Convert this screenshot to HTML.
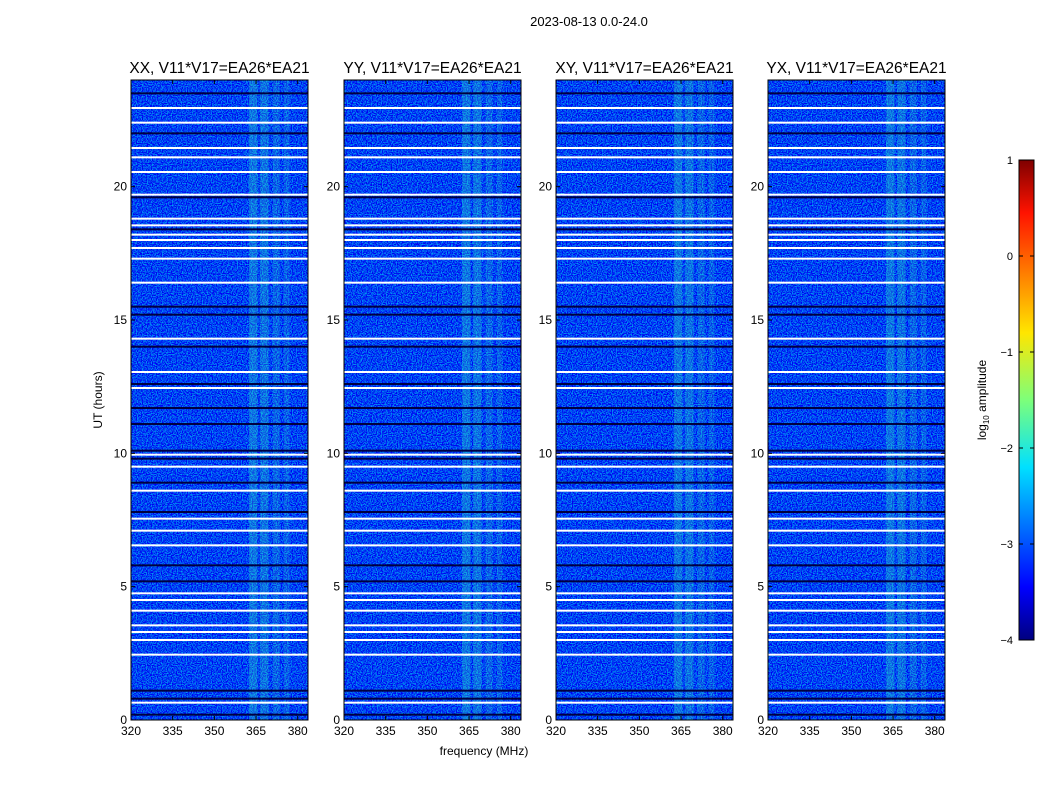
<!DOCTYPE html>
<html><head><meta charset="utf-8"><style>
body{margin:0;background:#fff;font-family:"Liberation Sans",sans-serif}
svg text{font-family:"Liberation Sans",sans-serif}
</style></head><body>
<svg id="chart" width="1050" height="800" viewBox="0 0 1050 800">
<defs>
<filter id="noise" x="0" y="0" width="100%" height="100%">
<feTurbulence type="fractalNoise" baseFrequency="0.8 0.9" numOctaves="1" seed="3" result="t"/>
<feColorMatrix in="t" type="matrix" values="0 0 0 0 0.0  1.4 0 0 0 -0.62  0 0.6 0 0 0.62  0 0 0 0 1"/>
</filter>
<linearGradient id="jet" x1="0" y1="1" x2="0" y2="0">
<stop offset="0" stop-color="#00007f"/><stop offset="0.11" stop-color="#0000ff"/>
<stop offset="0.36" stop-color="#00e0ff"/><stop offset="0.5" stop-color="#7dff7a"/>
<stop offset="0.64" stop-color="#ffe600"/><stop offset="0.89" stop-color="#ff1300"/>
<stop offset="1" stop-color="#7f0000"/></linearGradient>
</defs>
<text x="589" y="26" font-size="13" text-anchor="middle">2023-08-13 0.0-24.0</text>
<g id="panels"></g>
<text x="484" y="755" font-size="12" text-anchor="middle">frequency (MHz)</text>
<text x="102" y="400" font-size="12" text-anchor="middle" transform="rotate(-90 102 400)">UT (hours)</text>
<g>
<rect x="1019" y="160" width="15" height="480" fill="url(#jet)" stroke="#000"/>
<g id="cbticks"></g>
<text x="986" y="400" font-size="12" text-anchor="middle" transform="rotate(-90 986 400)">log<tspan font-size="8" dy="3">10</tspan><tspan dy="-3"> amplitude</tspan></text>
</g>
</svg>
<script>
const panelTitles=["XX, V11*V17=EA26*EA21","YY, V11*V17=EA26*EA21","XY, V11*V17=EA26*EA21","YX, V11*V17=EA26*EA21"];
const panelLefts=[131,344,556,768];
const xTicks=[320,335,350,365,380];
const yTicks=[0,5,10,15,20];
const cbTicks=[1,0,-1,-2,-3,-4];
const gapHours=[0.65,2.45,3.0,3.3,3.55,4.1,4.5,4.75,6.55,7.1,7.55,8.6,9.5,9.95,12.45,13.05,14.3,16.4,17.3,17.7,18.0,18.2,18.55,18.8,19.7,20.55,21.1,21.45,22.4,22.95];
const darkHours=[0.2,0.8,1.1,5.2,5.8,7.8,8.9,9.8,10.1,11.1,11.7,12.6,14.0,15.2,15.5,18.4,19.6,22.0,23.5];
const bandLo=[362.5,366.5,371,375];
const bandHi=[365.5,369.5,373.5,377];
const bandStrength=[0.3,0.28,0.2,0.18];
const W=177,yTop=80,yBot=720,fmin=320,fmax=383.7,hmax=24;
const NS="http://www.w3.org/2000/svg";
function mk(t,a,p){const e=document.createElementNS(NS,t);for(const k in a)e.setAttribute(k,a[k]);p.appendChild(e);return e;}
function yS(h){return yBot-(h/hmax)*(yBot-yTop);}
const panels=document.getElementById('panels');
panelTitles.forEach((title,i)=>{
  const L=panelLefts[i];
  const xS=f=>L+(f-fmin)/(fmax-fmin)*W;
  const g=mk('g',{},panels);
  
  
  mk('rect',{x:L,y:yTop,width:W,height:yBot-yTop,fill:'#0a22e0'},g);
  mk('rect',{x:L,y:yTop,width:W,height:yBot-yTop,filter:'url(#noise)',opacity:0.9},g);
  bandLo.forEach((lo,j)=>{
    const b=mk('rect',{x:xS(lo),y:yTop,width:xS(bandHi[j])-xS(lo),height:yBot-yTop,fill:'#30f0c0',opacity:bandStrength[j]},g);
    
    
  });
  darkHours.forEach(h=>{
    const d=mk('rect',{x:L,y:yS(h)-1,width:W,height:2,fill:'#000040'},g);
    
    
  });
  gapHours.forEach(h=>{
    const w=mk('rect',{x:L,y:yS(h)-1,width:W,height:2,fill:'#fff'},g);
    
    
  });
  mk('rect',{x:L,y:yTop,width:W,height:yBot-yTop,fill:'none',stroke:'#000'},g);
  const t=mk('text',{x:L+W/2,y:73,'font-size':15.5,'text-anchor':'middle'},g);
  t.textContent=title;
  
  
  xTicks.forEach(v=>{
    const x=xS(v);
    mk('line',{x1:x,x2:x,y1:yBot,y2:yBot-4,stroke:'#000'},g);
    mk('line',{x1:x,x2:x,y1:yTop,y2:yTop+4,stroke:'#000'},g);
    const tx=mk('text',{x:x,y:yBot+15,'font-size':12,'text-anchor':'middle'},g);
    tx.textContent=v;
    
    
  });
  yTicks.forEach(v=>{
    const y=yS(v);
    mk('line',{x1:L,x2:L+4,y1:y,y2:y,stroke:'#000'},g);
    mk('line',{x1:L+W,x2:L+W-4,y1:y,y2:y,stroke:'#000'},g);
    const ty=mk('text',{x:L-4,y:y+4,'font-size':12,'text-anchor':'end'},g);
    ty.textContent=v;
    
    
  });
});
const cb=document.getElementById('cbticks');
cbTicks.forEach(v=>{
  const y=160+(1-v)/5*480;
  mk('line',{x1:1019,x2:1023,y1:y,y2:y,stroke:'#000'},cb);
  mk('line',{x1:1034,x2:1030,y1:y,y2:y,stroke:'#000'},cb);
  const t=mk('text',{x:1013,y:y+4,'font-size':11,'text-anchor':'end'},cb);
  t.textContent=v<0?'\u2212'+(-v):v;
  
  
});
</script>
</body></html>
